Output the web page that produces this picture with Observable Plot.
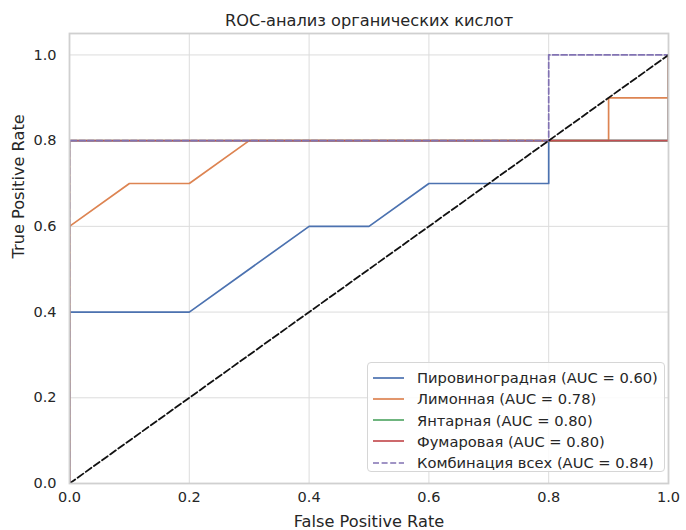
<!DOCTYPE html>
<html>
<head>
<meta charset="utf-8">
<script src="https://cdn.jsdelivr.net/npm/d3@7"></script>
<script src="https://cdn.jsdelivr.net/npm/@observablehq/plot@0.6"></script>
<style>
  html, body { margin: 0; padding: 0; background: #fff; }
  #wrap { position: relative; width: 686px; height: 530px; font-family: "DejaVu Sans", sans-serif; }
  #legend { position: absolute; left: 367px; top: 362px; width: 298px; height: 110px;
    border: 1px solid #d6d6d6; border-radius: 4px; background: rgba(255,255,255,0.85);
    box-sizing: border-box; padding: 4px 0 0 5px; font-size: 14.7px; color: #262626; }
  .row { display: flex; align-items: center; height: 21.25px; white-space: nowrap; }
  .row svg { margin-right: 13px; flex: none; }
</style>
</head>
<body>
<div id="wrap"></div>
<script>
const title = "ROC-анализ органических кислот";
const xLabel = "False Positive Rate";
const yLabel = "True Positive Rate";
const ticks = [0, 0.2, 0.4, 0.6, 0.8, 1.0];

const names = ["Пировиноградная", "Лимонная", "Янтарная", "Фумаровая", "Комбинация всех"];
const aucs = [0.60, 0.78, 0.80, 0.80, 0.84];
const colors = ["#4c72b0", "#dd8452", "#55a868", "#c44e52", "#8172b3"];
const dashes = [null, null, null, null, "6,2.6"];

const fprPyruvic = [0, 0, 0.2, 0.4, 0.5, 0.6, 0.8, 0.8, 1.0, 1.0];
const tprPyruvic = [0, 0.4, 0.4, 0.6, 0.6, 0.7, 0.7, 0.8, 0.8, 1.0];
const fprCitric = [0, 0, 0.1, 0.2, 0.3, 0.9, 0.9, 1.0, 1.0];
const tprCitric = [0, 0.6, 0.7, 0.7, 0.8, 0.8, 0.9, 0.9, 1.0];
const fprSuccinic = [0, 0, 1.0, 1.0];
const tprSuccinic = [0, 0.8, 0.8, 1.0];
const fprFumaric = [0, 0, 1.0, 1.0];
const tprFumaric = [0, 0.8, 0.8, 1.0];
const fprAll = [0, 0, 0.8, 0.8, 1.0];
const tprAll = [0, 0.8, 0.8, 1.0, 1.0];
const diagX = [0, 1];
const diagY = [0, 1];

const fprs = [fprPyruvic, fprCitric, fprSuccinic, fprFumaric, fprAll];
const tprs = [tprPyruvic, tprCitric, tprSuccinic, tprFumaric, tprAll];

const series = names.map((n, i) => fprs[i].map((x, j) => ({x, y: tprs[i][j], s: n})));
const diag = diagX.map((x, i) => ({x, y: diagY[i]}));

const marks = [
  Plot.gridX(ticks, {stroke: "#dcdcdc", strokeOpacity: 1, strokeWidth: 1}),
  Plot.gridY(ticks, {stroke: "#dcdcdc", strokeOpacity: 1, strokeWidth: 1}),
  Plot.axisX(ticks, {tickSize: 0, tickPadding: 8, fontSize: 14.5, tickFormat: d => d.toFixed(1), label: null, color: "#262626"}),
  Plot.axisY(ticks, {tickSize: 0, tickPadding: 13, fontSize: 14.5, tickFormat: d => d.toFixed(1), label: null, color: "#262626"}),
];
series.forEach((d, i) => {
  marks.push(Plot.line(d, {x: "x", y: "y", stroke: colors[i], strokeWidth: 1.7,
    strokeDasharray: dashes[i] || undefined, curve: "linear", clip: true}));
});
marks.push(Plot.line(diag, {x: "x", y: "y", stroke: "#111", strokeWidth: 1.8, strokeDasharray: "7,3", clip: true}));
marks.push(Plot.frame({stroke: "#d0d0d0", strokeWidth: 1.8}));
marks.push(Plot.text([title], {frameAnchor: "top", dy: -13, fontSize: 16.2, fill: "#262626", lineAnchor: "middle"}));
marks.push(Plot.text([xLabel], {frameAnchor: "bottom", dy: 38, fontSize: 16.2, fill: "#262626", lineAnchor: "middle"}));
marks.push(Plot.text([yLabel], {frameAnchor: "left", dx: -51, rotate: -90, fontSize: 16.2, fill: "#262626", lineAnchor: "middle"}));

const chart = Plot.plot({
  width: 686,
  height: 530,
  marginLeft: 69,
  marginRight: 18,
  marginTop: 33,
  marginBottom: 47,
  style: {fontFamily: "DejaVu Sans, sans-serif", background: "#fff", color: "#262626"},
  x: {domain: [0, 1]},
  y: {domain: [0, 1.05]},
  marks
});
const wrap = document.getElementById("wrap");
wrap.appendChild(chart);

const legend = document.createElement("div");
legend.id = "legend";
names.forEach((n, i) => {
  const row = document.createElement("div");
  row.className = "row";
  const dash = dashes[i] ? `stroke-dasharray="${dashes[i]}"` : "";
  row.innerHTML = `<svg width="31" height="10"><line x1="0" x2="31" y1="5" y2="5" stroke="${colors[i]}" stroke-width="1.7" ${dash}/></svg><span>${n} (AUC = ${aucs[i].toFixed(2)})</span>`;
  legend.appendChild(row);
});
wrap.appendChild(legend);
</script>
</body>
</html>
